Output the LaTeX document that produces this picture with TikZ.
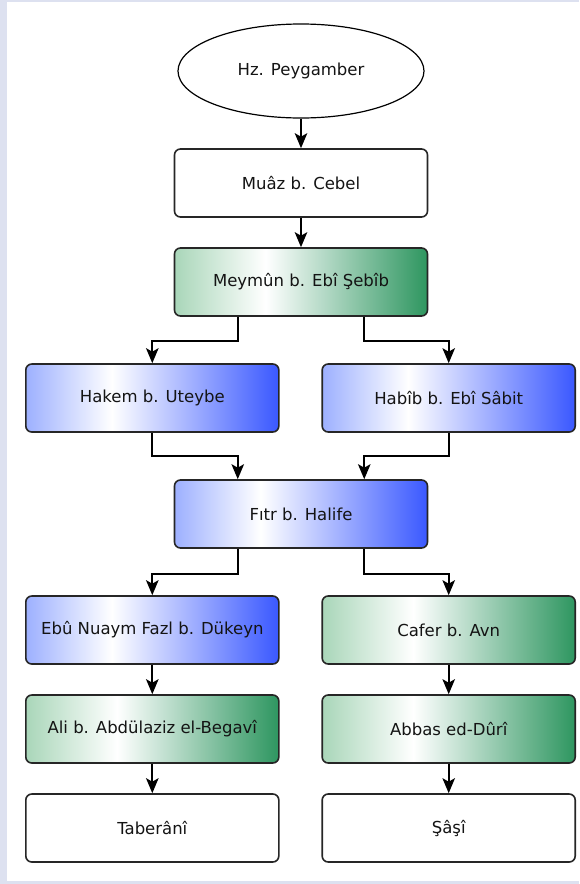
\documentclass[tikz,border=0pt]{standalone}
\usepackage{fontspec}
\setmainfont{DejaVu Sans}
\usetikzlibrary{shapes.geometric,arrows.meta}
\definecolor{bglav}{HTML}{DDE1F0}
\definecolor{gL}{HTML}{A9D6B9}
\definecolor{gR}{HTML}{2E9660}
\definecolor{bL}{HTML}{9DB0FF}
\definecolor{bR}{HTML}{3A58FF}
\definecolor{edge}{HTML}{262626}
\definecolor{txt}{HTML}{141414}
\pgfdeclarehorizontalshading{greenshade}{100bp}{color(0bp)=(gL); color(25bp)=(gL); color(43bp)=(white); color(75bp)=(gR); color(100bp)=(gR)}
\pgfdeclarehorizontalshading{blueshade}{100bp}{color(0bp)=(bL); color(25bp)=(bL); color(42bp)=(white); color(75bp)=(bR); color(100bp)=(bR)}
\tikzset{
  base/.style={draw=edge, line width=1.6pt, rounded corners=6pt, minimum width=253pt, minimum height=68pt, inner sep=0pt, text=txt, font=\fontsize{16.5}{20}\selectfont},
  whitebox/.style={base, fill=white},
  greenbox/.style={base, shading=greenshade, shading angle=0},
  bluebox/.style={base, shading=blueshade, shading angle=0},
  oval/.style={ellipse, draw=black, line width=1.2pt, fill=white, minimum width=246pt, minimum height=94pt, inner sep=0pt, text=txt, font=\fontsize{16.5}{20}\selectfont},
  arr/.style={draw=black, line width=2pt, -{Stealth[length=15pt,width=12.5pt,inset=3.5pt]}}
}
\begin{document}
\begin{tikzpicture}[x=1pt,y=-1pt]
\useasboundingbox (0,0) rectangle (579,884);
\fill[bglav] (0,0) rectangle (579,884);
\fill[white] (7,2) rectangle (579,881);
\node[oval] (hz) at (301,71) {Hz. Peygamber};
\node[whitebox] (muaz) at (301,183) {Muâz b. Cebel};
\node[greenbox] (meymun) at (301,282) {Meymûn b. Ebî Şebîb};
\node[bluebox] (hakem) at (152.3,398) {Hakem b. Uteybe};
\node[bluebox] (habib) at (448.7,398) {Habîb b. Ebî Sâbit};
\node[bluebox] (fitr) at (301,514) {Fıtr b. Halife};
\node[bluebox] (ebu) at (152.3,630) {Ebû Nuaym Fazl b. Dükeyn};
\node[greenbox] (cafer) at (448.7,630) {Cafer b. Avn};
\node[greenbox] (ali) at (152.3,729) {Ali b. Abdülaziz el-Begavî};
\node[greenbox] (abbas) at (448.7,729) {Abbas ed-Dûrî};
\node[whitebox] (taberani) at (152.3,828) {Taberânî};
\node[whitebox] (sasi) at (448.7,828) {Şâşî};
\draw[arr] (hz) -- (muaz);
\draw[arr] (muaz) -- (meymun);
\draw[arr] ([xshift=-63.25pt]meymun.south) -- ++(0,24) -| (hakem.north);
\draw[arr] ([xshift=63.25pt]meymun.south) -- ++(0,24) -| (habib.north);
\draw[arr] (hakem.south) -- ++(0,23) -| ([xshift=-63.25pt]fitr.north);
\draw[arr] (habib.south) -- ++(0,23) -| ([xshift=63.25pt]fitr.north);
\draw[arr] ([xshift=-63.25pt]fitr.south) -- ++(0,25) -| (ebu.north);
\draw[arr] ([xshift=63.25pt]fitr.south) -- ++(0,25) -| (cafer.north);
\draw[arr] (ebu) -- (ali);
\draw[arr] (ali) -- (taberani);
\draw[arr] (cafer) -- (abbas);
\draw[arr] (abbas) -- (sasi);
\end{tikzpicture}
\end{document}
